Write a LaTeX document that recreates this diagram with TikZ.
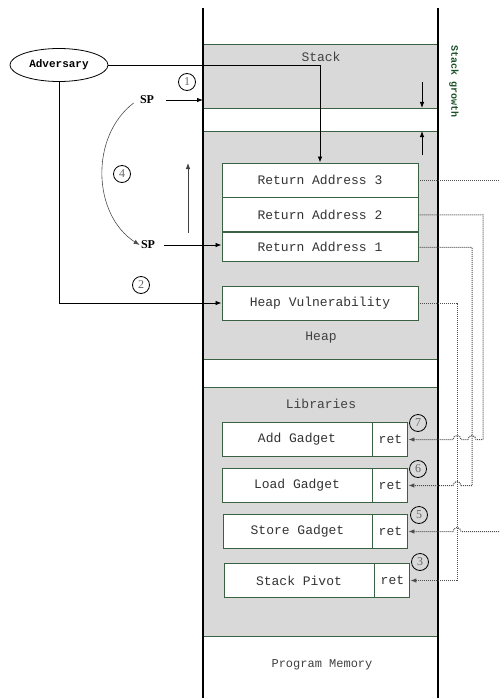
\documentclass[tikz,border=0pt]{standalone}
\usepackage{fontspec}
\setmainfont{Liberation Serif}
\setmonofont{Liberation Mono}
\usetikzlibrary{arrows.meta,positioning,shapes.geometric}
\definecolor{memgray}{RGB}{217,217,217}
\definecolor{rimgreen}{RGB}{58,98,66}
\definecolor{growgreen}{RGB}{28,82,40}
\tikzset{
  wall/.style={line width=2pt},
  region/.style={fill=memgray,draw=rimgreen,line width=0.9pt},
  regionlabel/.style={font=\ttfamily\fontsize{13}{13}\selectfont,text=black!75},
  membox/.style={draw=rimgreen,fill=white,line width=0.9pt,minimum width=#1,
    minimum height=34pt,inner sep=0pt,font=\ttfamily\fontsize{13}{13}\selectfont,text=black!80},
  retbox/.style={membox=35pt},
  num/.style={circle,draw,line width=0.8pt,inner sep=0pt,minimum size=17pt,
    font=\fontsize{12}{12}\selectfont,text=black!60},
  spmark/.style={font=\bfseries\fontsize{12}{12}\selectfont,inner sep=1pt},
  link/.style={densely dotted,line width=1pt,black!70},
  tip/.style={-{Latex[length=6pt,width=4.5pt]}}
}
\begin{document}
\begin{tikzpicture}[x=1pt,y=-1pt,line width=0.8pt]
\useasboundingbox (0,0) rectangle (499,698);
% memory map
\draw[region] (203,44) rectangle (438,108);
\draw[region] (203,131) rectangle (438,359);
\draw[region] (203,387) rectangle (438,636);
\draw[wall] (203,8) -- (203,698);
\draw[wall] (438,8) -- (438,698);
\coordinate (wallL) at (203,0);
\node[regionlabel] (stk) at (321,57) {Stack};
\node[regionlabel] (hp) at (321,338) {Heap};
\node[regionlabel] (lib) at (321,404) {Libraries};
\node[regionlabel,font=\ttfamily\fontsize{12}{12}\selectfont] (prog) at (322,665) {Program Memory};
\node[rotate=-90,font=\ttfamily\bfseries\fontsize{10}{10}\selectfont,text=growgreen] (grow) at (454,82) {Stack growth};
\draw[tip] (422,82) -- (422,108);
\draw[tip] (422,155) -- (422,131);
% stack frames
\node[membox=196pt] (ra3) at (320,180) {Return Address 3};
\node[membox=196pt,below=0pt of ra3] (ra2) {Return Address 2};
\node[membox=196pt,minimum height=29pt,below=0pt of ra2] (ra1) {Return Address 1};
\node[membox=196pt] (heapvul) at (320,303) {Heap Vulnerability};
% gadgets
\node[membox=150pt] (add) at (297,439.5) {Add Gadget};
\node[retbox,right=0pt of add] (addret) {ret};
\node[membox=150pt] (load) at (297,485.5) {Load Gadget};
\node[retbox,right=0pt of load] (loadret) {ret};
\node[membox=149pt] (store) at (297.5,531.5) {Store Gadget};
\node[retbox,right=0pt of store] (storeret) {ret};
\node[membox=150pt] (pivot) at (299,580.5) {Stack Pivot};
\node[retbox,right=0pt of pivot] (pivotret) {ret};
\node[num] (n7) at (418,423) {7};
\node[num] (n6) at (418,469) {6};
\node[num] (n5) at (419,515) {5};
\node[num] (n3) at (420,562) {3};
% attacker side
\node[ellipse,draw,minimum width=98pt,minimum height=33pt,inner sep=0pt,
  font=\ttfamily\bfseries\fontsize{11}{11}\selectfont] (adv) at (59,65) {Adversary};
\node[spmark] (sp1) at (147,100) {SP};
\node[spmark] (sp2) at (148,245) {SP};
\node[num] (n1) at (187,82) {1};
\node[num] (n4) at (122,174) {4};
\node[num] (n2) at (141,285) {2};
\draw[tip] (adv.east) -| (ra3.north);
\draw[tip] (adv.south) |- (heapvul.west);
\draw[tip] ([xshift=11pt]sp1.east) -- (sp1.east -| wallL);
\draw[tip] ([xshift=8pt]sp2.east) -- (sp2.east -| ra1.west);
\draw[tip,black!70,line width=0.6pt] ([shift={(-5,3)}]sp1.west) to[bend right=55] (sp2.west);
\draw[tip,black!75] (188,233) -- (188,163);
% gadget chain
\coordinate (v1) at (457,0);
\coordinate (v2) at (472,0);
\coordinate (v3) at (483,0);
\coordinate (rim) at (499,0);
\draw[link] (ra3.east) -- (ra3.east -| rim);
\draw[link,tip] (ra2.east) -| (v3 |- addret.east) -- ([xshift=4pt]v2 |- addret.east)
  arc[start angle=0,end angle=180,radius=4pt] -- ([xshift=4pt]v1 |- addret.east)
  arc[start angle=0,end angle=180,radius=4pt] -- (addret.east);
\draw[link,tip] (ra1.east) -| (v2 |- loadret.east) -- ([xshift=4pt]v1 |- loadret.east)
  arc[start angle=0,end angle=180,radius=4pt] -- (loadret.east);
\draw[link,tip] (rim |- storeret.east) -- ([xshift=4pt]v1 |- storeret.east)
  arc[start angle=0,end angle=180,radius=4pt] -- (storeret.east);
\draw[link,tip] (heapvul.east) -| (v1 |- pivotret.east) -- (pivotret.east);
\end{tikzpicture}
\end{document}
